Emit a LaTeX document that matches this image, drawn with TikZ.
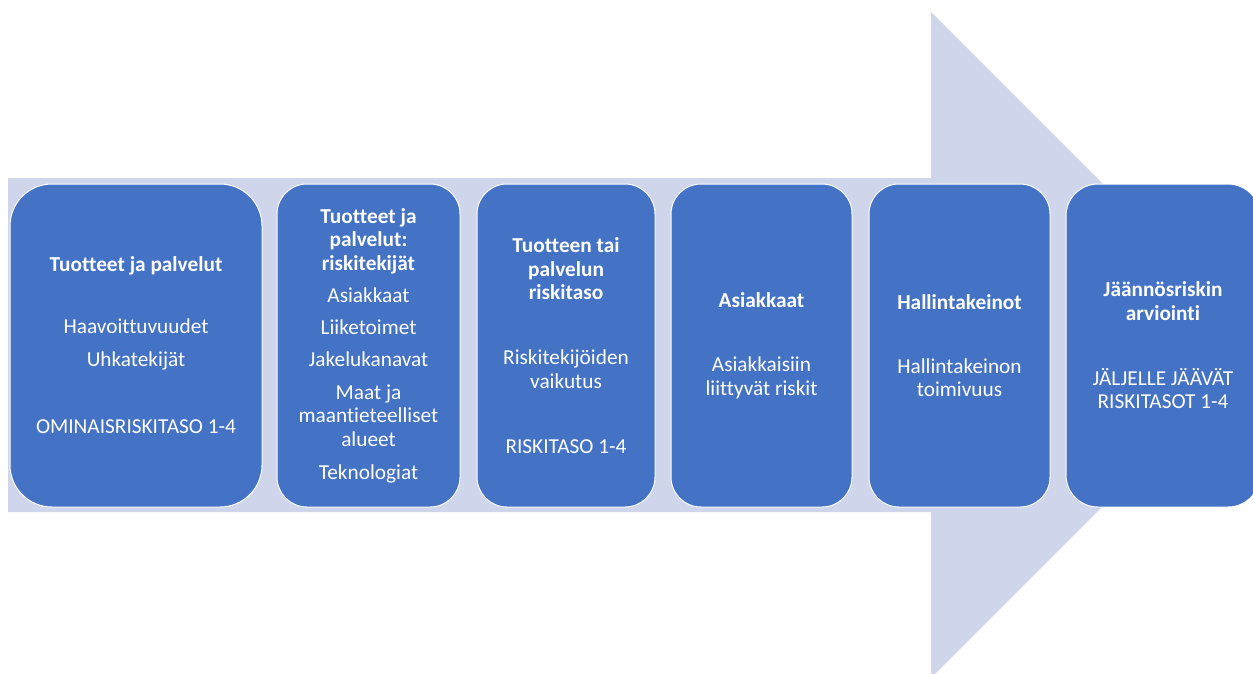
\documentclass[tikz,border=0pt]{standalone}
\usepackage{fontspec}
\setmainfont[Ligatures=NoCommon]{Carlito}
\definecolor{boxblue}{HTML}{4472C4}
\definecolor{arrowgrey}{HTML}{CFD5EA}
\begin{document}
\begin{tikzpicture}[x=1pt,y=-1pt,
    phase/.style={draw=white, line width=1pt, fill=boxblue, text=white,
      inner sep=0pt, minimum height=323pt, align=center,
      font=\fontsize{21.3}{23.5}\selectfont}]
  \useasboundingbox (0,0) rectangle (1253,673);
  \clip (0,0) rectangle (1253,673);
  % big arrow behind the steps
  \fill[arrowgrey] (8,178) -- (931,178) -- (931,12) -- (1264,345)
    -- (931,678) -- (931,512) -- (8,512) -- cycle;
  % steps
  \node[phase, minimum width=252pt, rounded corners=42pt] (tuotteet) at (136,345.5)
    {\textbf{Tuotteet ja palvelut}\\[38.5pt]
     Haavoittuvuudet\\[9.5pt]
     Uhkatekijät\\[43.5pt]
     OMINAISRISKITASO 1-4};
  \node[phase, minimum width=183pt, rounded corners=30pt] (tekijat) at (368.5,345.5)
    {\textbf{Tuotteet ja}\\
     \textbf{palvelut:}\\
     \textbf{riskitekijät}\\[8.5pt]
     Asiakkaat\\[8.5pt]
     Liiketoimet\\[8.5pt]
     Jakelukanavat\\[9.5pt]
     Maat ja\\
     maantieteelliset\\
     alueet\\[9.5pt]
     Teknologiat};
  \node[phase, minimum width=178pt, rounded corners=30pt] (taso) at (566,345.5)
    {\textbf{Tuotteen tai}\\
     \textbf{palvelun}\\
     \textbf{riskitaso}\\[41.5pt]
     Riskitekijöiden\\
     vaikutus\\[41.5pt]
     RISKITASO 1-4};
  \node[phase, minimum width=181pt, rounded corners=30pt] (asiakkaat) at (761.5,345.5)
    {\textbf{Asiakkaat}\\[40.5pt]
     Asiakkaisiin\\
     liittyvät riskit};
  \node[phase, minimum width=181pt, rounded corners=30pt] (hallinta) at (959.5,345.5)
    {\textbf{Hallintakeinot}\\[40.5pt]
     Hallintakeinon\\
     toimivuus};
  \node[phase, minimum width=194pt, rounded corners=32pt] (jaannos) at (1163,345.5)
    {\textbf{Jäännösriskin}\\
     \textbf{arviointi}\\[41.5pt]
     JÄLJELLE JÄÄVÄT\\
     RISKITASOT 1-4};
\end{tikzpicture}
\end{document}
